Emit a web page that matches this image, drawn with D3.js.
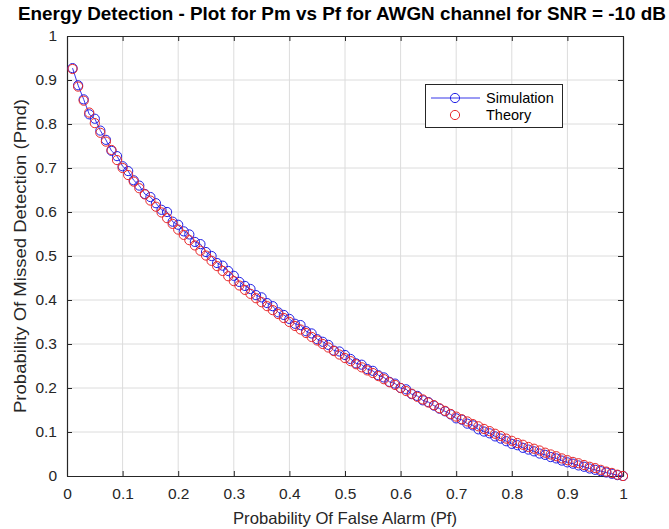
<!DOCTYPE html>
<html>
<head>
<meta charset="utf-8">
<script src="https://cdn.jsdelivr.net/npm/d3@7"></script>
<style>
  html, body { margin: 0; padding: 0; background: #fff; }
  svg { display: block; font-family: "Liberation Sans", Arial, Helvetica, sans-serif; }
</style>
</head>
<body>
<svg id="chart" width="669" height="529"></svg>
<script>
// Pf grid 0.01 .. 1.00 (step 0.01)
const pf = d3.range(1, 101).map(i => i / 100);

// Theory curve (red circles)
const pmTheory = [
  0.925, 0.885, 0.853, 0.826, 0.802, 0.780, 0.760, 0.741, 0.718, 0.700,
  0.684, 0.669, 0.654, 0.640, 0.626, 0.612, 0.599, 0.586, 0.573, 0.560,
  0.548, 0.536, 0.524, 0.512, 0.501, 0.489, 0.477, 0.466, 0.454, 0.443,
  0.433, 0.423, 0.414, 0.404, 0.395, 0.386, 0.377, 0.368, 0.359, 0.350,
  0.341, 0.333, 0.325, 0.316, 0.308, 0.300, 0.292, 0.284, 0.276, 0.268,
  0.261, 0.254, 0.247, 0.240, 0.234, 0.227, 0.220, 0.213, 0.207, 0.200,
  0.193, 0.187, 0.180, 0.174, 0.167, 0.161, 0.154, 0.148, 0.141, 0.135,
  0.129, 0.124, 0.118, 0.113, 0.107, 0.102, 0.096, 0.091, 0.085, 0.080,
  0.075, 0.071, 0.066, 0.062, 0.058, 0.053, 0.049, 0.045, 0.040, 0.036,
  0.032, 0.029, 0.025, 0.021, 0.018, 0.014, 0.010, 0.007, 0.003, 0.000
];

// Simulation curve (blue line + circles)
const pmSim = [
  0.927, 0.888, 0.856, 0.822, 0.812, 0.785, 0.764, 0.739, 0.727, 0.704,
  0.693, 0.672, 0.660, 0.641, 0.634, 0.620, 0.605, 0.600, 0.578, 0.571,
  0.556, 0.549, 0.532, 0.527, 0.509, 0.500, 0.484, 0.478, 0.466, 0.455,
  0.441, 0.432, 0.425, 0.411, 0.406, 0.393, 0.386, 0.372, 0.366, 0.357,
  0.346, 0.343, 0.329, 0.324, 0.311, 0.305, 0.298, 0.285, 0.283, 0.275,
  0.266, 0.256, 0.253, 0.243, 0.239, 0.229, 0.224, 0.214, 0.210, 0.200,
  0.197, 0.186, 0.182, 0.172, 0.168, 0.160, 0.153, 0.147, 0.140, 0.131,
  0.128, 0.119, 0.115, 0.106, 0.101, 0.097, 0.090, 0.085, 0.079, 0.073,
  0.070, 0.064, 0.060, 0.056, 0.051, 0.048, 0.043, 0.040, 0.035, 0.031,
  0.028, 0.024, 0.021, 0.017, 0.014, 0.011, 0.008, 0.005, 0.002, 0.000
];

const xTicks = d3.range(0, 11).map(i => i / 10);
const yTicks = d3.range(0, 11).map(i => i / 10);

const titleText = 'Energy Detection - Plot for Pm vs Pf for AWGN channel for SNR = -10 dB';
const xLabel = 'Probability Of False Alarm (Pf)';
const yLabel = 'Probability Of Missed Detection (Pmd)';
const legendNames = ['Simulation', 'Theory'];

const ink = '#262626', blue = '#1f1fe6', red = '#e8282a';

const svg = d3.select('#chart');
const pL = 67, pR = 623, pT = 36, pB = 476;

const x = d3.scaleLinear().domain([0, 1]).range([pL, pR]);
const y = d3.scaleLinear().domain([0, 1]).range([pB, pT]);

// grid
svg.append('g').selectAll('line').data(xTicks.slice(1, -1)).enter().append('line')
  .attr('x1', d => x(d)).attr('x2', d => x(d)).attr('y1', pT).attr('y2', pB)
  .attr('stroke', '#dcdcdc').attr('stroke-width', 1);
svg.append('g').selectAll('line').data(yTicks.slice(1, -1)).enter().append('line')
  .attr('x1', pL).attr('x2', pR).attr('y1', d => y(d)).attr('y2', d => y(d))
  .attr('stroke', '#dcdcdc').attr('stroke-width', 1);

// axes (ticks inward, box on)
const fmt = d => d === 0 || d === 1 ? String(d) : d3.format('.1f')(d);
const axB = svg.append('g').attr('transform', `translate(0,${pB})`)
  .call(d3.axisBottom(x).tickValues(xTicks).tickFormat(fmt).tickSizeInner(-5).tickSizeOuter(0).tickPadding(12));
const axL = svg.append('g').attr('transform', `translate(${pL},0)`)
  .call(d3.axisLeft(y).tickValues(yTicks).tickFormat(fmt).tickSizeInner(-5).tickSizeOuter(0).tickPadding(10));
const axT = svg.append('g').attr('transform', `translate(0,${pT})`)
  .call(d3.axisTop(x).tickValues(xTicks).tickFormat('').tickSizeInner(-5).tickSizeOuter(0));
const axR = svg.append('g').attr('transform', `translate(${pR},0)`)
  .call(d3.axisRight(y).tickValues(yTicks).tickFormat('').tickSizeInner(-5).tickSizeOuter(0));
[axB, axL, axT, axR].forEach(a => {
  a.select('.domain').attr('stroke', ink).attr('stroke-width', 1.2);
  a.selectAll('.tick line').attr('stroke', ink);
  a.selectAll('.tick text').attr('fill', ink).style('font-size', '15.5px')
    .style('font-family', '"Liberation Sans", Arial, sans-serif');
});

// simulation line + markers
const pts = (vals) => pf.map((p, i) => [p, vals[i]]);
svg.append('path').datum(pts(pmSim))
  .attr('d', d3.line().x(d => x(d[0])).y(d => y(d[1])))
  .attr('fill', 'none').attr('stroke', blue).attr('stroke-width', 0.9);
svg.append('g').selectAll('circle').data(pts(pmSim)).enter().append('circle')
  .attr('cx', d => x(d[0])).attr('cy', d => y(d[1])).attr('r', 4.6)
  .attr('fill', 'none').attr('stroke', blue).attr('stroke-width', 1);
svg.append('g').selectAll('circle').data(pts(pmTheory)).enter().append('circle')
  .attr('cx', d => x(d[0])).attr('cy', d => y(d[1])).attr('r', 4.6)
  .attr('fill', 'none').attr('stroke', red).attr('stroke-width', 1);

// legend
const lg = svg.append('g');
lg.append('rect').attr('x', 425.5).attr('y', 84.5).attr('width', 137).attr('height', 43)
  .attr('fill', '#fff').attr('stroke', ink).attr('stroke-width', 1);
const rowY = [98, 115];
lg.append('line').attr('x1', 431).attr('x2', 480).attr('y1', rowY[0]).attr('y2', rowY[0])
  .attr('stroke', blue).attr('stroke-width', 0.9);
lg.append('circle').attr('cx', 455).attr('cy', rowY[0]).attr('r', 4.6)
  .attr('fill', 'none').attr('stroke', blue);
lg.append('circle').attr('cx', 455).attr('cy', rowY[1]).attr('r', 4.6)
  .attr('fill', 'none').attr('stroke', red);
lg.selectAll('text').data(legendNames).enter().append('text')
  .attr('x', 486).attr('y', (d, i) => rowY[i]).attr('dy', '0.35em')
  .attr('fill', '#000').style('font-size', '14.5px').text(d => d);

// title and axis labels
svg.append('text').attr('x', 342).attr('y', 20)
  .attr('text-anchor', 'middle').attr('fill', '#000')
  .attr('textLength', 648).attr('lengthAdjust', 'spacingAndGlyphs')
  .style('font-size', '18px').style('font-weight', 'bold').text(titleText);
svg.append('text').attr('x', (pL + pR) / 2).attr('y', 524)
  .attr('text-anchor', 'middle').attr('fill', ink)
  .attr('textLength', 224).attr('lengthAdjust', 'spacingAndGlyphs')
  .style('font-size', '16.5px').text(xLabel);
svg.append('text').attr('transform', `translate(26,256) rotate(-90)`)
  .attr('text-anchor', 'middle').attr('fill', ink)
  .attr('textLength', 314).attr('lengthAdjust', 'spacingAndGlyphs')
  .style('font-size', '17px').text(yLabel);
</script>
</body>
</html>
